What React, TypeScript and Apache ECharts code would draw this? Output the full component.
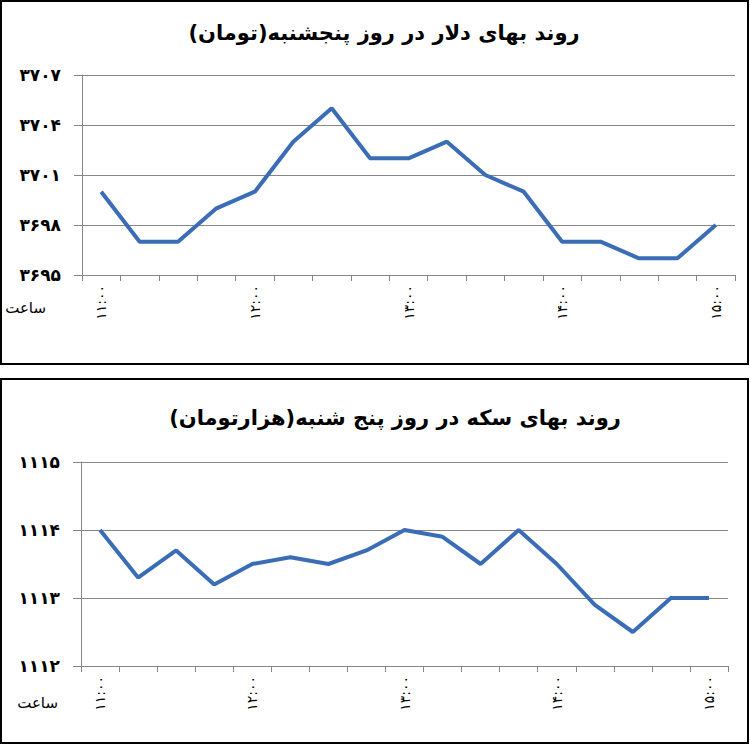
import React, { useEffect, useRef } from "react";
import * as echarts from "echarts";

const times = [
  "11:00", "11:15", "11:30", "11:45",
  "12:00", "12:15", "12:30", "12:45",
  "13:00", "13:15", "13:30", "13:45",
  "14:00", "14:15", "14:30", "14:45",
  "15:00",
];

const dollarValues = [
  3700, 3697, 3697, 3699, 3700, 3703, 3705, 3702, 3702,
  3703, 3701, 3700, 3697, 3697, 3696, 3696, 3698,
];

const coinValues = [
  1114.0, 1113.3, 1113.7, 1113.2, 1113.5, 1113.6, 1113.5, 1113.7, 1114.0,
  1113.9, 1113.5, 1114.0, 1113.5, 1112.9, 1112.5, 1113.0, 1113.0,
];

const dollarTitle = "روند بهای دلار در روز پنجشنبه(تومان)";
const coinTitle = "روند بهای سکه در روز پنج شنبه(هزارتومان)";
const hourLabel = "ساعت";

const dollarAxis = { min: 3695, max: 3707, interval: 3 };
const coinAxis = { min: 1112, max: 1115, interval: 1 };

const FA_DIGITS = "۰۱۲۳۴۵۶۷۸۹";
const fa = (v: string | number) =>
  String(v).replace(/\d/g, (d) => FA_DIGITS[Number(d)]);

const FONT = "DejaVu Sans";
const GRAY = "#868686";
const LINE = "#3a6db5";

export default function App() {
  const ref = useRef<HTMLDivElement>(null);

  useEffect(() => {
    if (!ref.current) return;
    const chart = echarts.init(ref.current, undefined, { renderer: "svg" });

    const xAxisBase = (gridIndex: number) => ({
      type: "category" as const,
      gridIndex,
      data: times,
      boundaryGap: true,
      axisLine: { lineStyle: { color: GRAY, width: 1 } },
      axisTick: { show: true, interval: 0, length: 6, lineStyle: { color: GRAY } },
      axisLabel: {
        interval: 3,
        rotate: 90,
        margin: 10,
        color: "#000",
        fontFamily: FONT,
        fontSize: 14,
        formatter: (v: string) => fa(v),
      },
      splitLine: { show: false },
    });

    const yAxisBase = (gridIndex: number, ax: { min: number; max: number; interval: number }) => ({
      type: "value" as const,
      gridIndex,
      min: ax.min,
      max: ax.max,
      interval: ax.interval,
      axisLine: { show: true, lineStyle: { color: GRAY, width: 1 } },
      axisTick: { show: true, length: 8, lineStyle: { color: GRAY } },
      axisLabel: {
        margin: 21,
        color: "#000",
        fontFamily: FONT,
        fontSize: 17,
        fontWeight: "bold",
        formatter: (v: number) => fa(v),
      },
      splitLine: { show: true, lineStyle: { color: GRAY, width: 1 } },
    });

    chart.setOption({
      animation: false,
      backgroundColor: "#fff",
      textStyle: { fontFamily: FONT },
      title: [
        {
          text: dollarTitle,
          left: 379,
          top: 17,
          textAlign: "center",
          textStyle: { fontFamily: FONT, fontSize: 21, fontWeight: "bold", color: "#000" },
        },
        {
          text: coinTitle,
          left: 390,
          top: 402,
          textAlign: "center",
          textStyle: { fontFamily: FONT, fontSize: 21, fontWeight: "bold", color: "#000" },
        },
      ],
      grid: [
        { left: 82, right: 15, top: 75, height: 200 },
        { left: 81, right: 22, top: 462, height: 204 },
      ],
      xAxis: [xAxisBase(0), xAxisBase(1)],
      yAxis: [yAxisBase(0, dollarAxis), yAxisBase(1, coinAxis)],
      series: [
        {
          type: "line",
          xAxisIndex: 0,
          yAxisIndex: 0,
          data: dollarValues,
          symbol: "none",
          lineStyle: { color: LINE, width: 4 },
          itemStyle: { color: LINE },
        },
        {
          type: "line",
          xAxisIndex: 1,
          yAxisIndex: 1,
          data: coinValues,
          symbol: "none",
          lineStyle: { color: LINE, width: 4 },
          itemStyle: { color: LINE },
        },
      ],
      graphic: [
        {
          type: "rect",
          shape: { x: 1, y: 1, width: 747, height: 363 },
          style: { fill: "none", stroke: "#000", lineWidth: 2 },
          silent: true,
        },
        {
          type: "rect",
          shape: { x: 1, y: 379, width: 747, height: 364 },
          style: { fill: "none", stroke: "#000", lineWidth: 2 },
          silent: true,
        },
        {
          type: "text",
          x: 46,
          y: 308,
          style: {
            text: hourLabel,
            fill: "#000",
            font: `15px "${FONT}"`,
            textAlign: "right",
            textVerticalAlign: "middle",
          },
        },
        {
          type: "text",
          x: 58,
          y: 703,
          style: {
            text: hourLabel,
            fill: "#000",
            font: `15px "${FONT}"`,
            textAlign: "right",
            textVerticalAlign: "middle",
          },
        },
      ],
    });

    return () => chart.dispose();
  }, []);

  return (
    <div
      ref={ref}
      style={{ position: "absolute", left: 0, top: 0, width: 750, height: 745 }}
    />
  );
}
